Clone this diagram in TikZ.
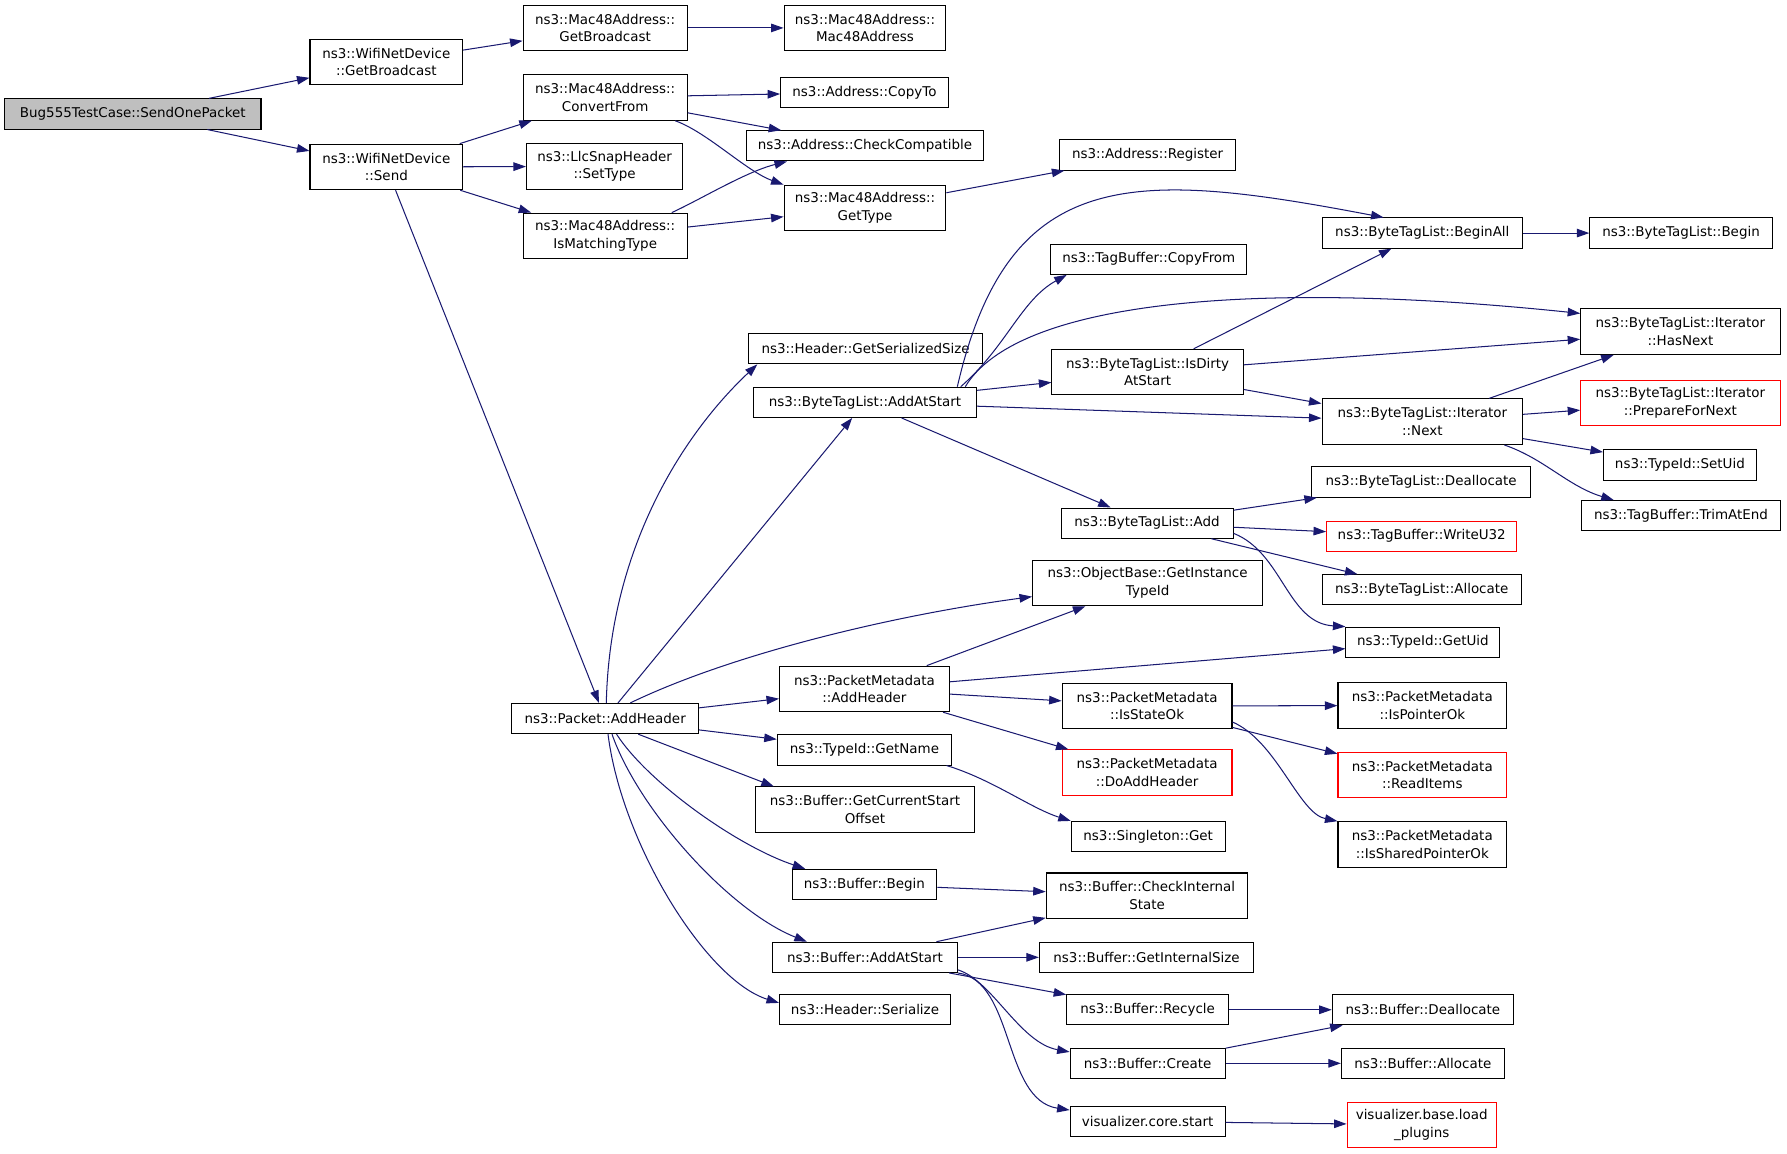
\documentclass[tikz,border=0pt]{standalone}
\usepackage{fontspec}
\setmainfont{DejaVu Sans}
\usetikzlibrary{arrows.meta}
\definecolor{edgeblue}{HTML}{191970}

\begin{document}
\begin{tikzpicture}[x=1pt,y=-1pt,
    fn/.style={draw=black, fill=white, line width=0.9pt, inner sep=0pt,
      align=center, minimum height=26.5pt, font=\fontsize{11.8}{15.5}\selectfont},
    two/.style={minimum height=40pt},
    undoc/.style={draw=red},
    root/.style={fill=black!25},
    call/.style={draw=edgeblue, line width=0.9pt, -{Triangle[length=11pt,width=7.5pt]}}]
  \useasboundingbox (0,0) rectangle (1568,1011.7);
  % first column
  \node[fn, root, minimum width=225] (snd) at (116.5,100) {Bug555TestCase::SendOnePacket};
  \node[fn, two, minimum width=134] (wgb) at (339,54.5) {ns3::WifiNetDevice\\::GetBroadcast};
  \node[fn, two, minimum width=134] (wsend) at (339,146.5) {ns3::WifiNetDevice\\::Send};
  \node[fn, two, minimum width=144] (mgb) at (531,24.5) {ns3::Mac48Address::\\GetBroadcast};
  \node[fn, two, minimum width=144] (mconv) at (531,85.5) {ns3::Mac48Address::\\ConvertFrom};
  \node[fn, two, minimum width=137] (llc) at (530.5,146) {ns3::LlcSnapHeader\\::SetType};
  \node[fn, two, minimum width=144] (ismatch) at (531,207) {ns3::Mac48Address::\\IsMatchingType};
  \node[fn, minimum width=164] (padd) at (531,630.5) {ns3::Packet::AddHeader};
  % second column
  \node[fn, two, minimum width=142] (mmac) at (759,24.5) {ns3::Mac48Address::\\Mac48Address};
  \node[fn, minimum width=147] (copyto) at (758.5,81) {ns3::Address::CopyTo};
  \node[fn, minimum width=208] (checkc) at (759,128) {ns3::Address::CheckCompatible};
  \node[fn, two, minimum width=142] (mtype) at (759,182.5) {ns3::Mac48Address::\\GetType};
  \node[fn, minimum width=205] (getser) at (759.5,306) {ns3::Header::GetSerializedSize};
  \node[fn, minimum width=196] (btlstart) at (759,353) {ns3::ByteTagList::AddAtStart};
  \node[fn, two, minimum width=149] (pmadd) at (758.5,604.5) {ns3::PacketMetadata\\::AddHeader};
  \node[fn, minimum width=153] (getname) at (758.5,658) {ns3::TypeId::GetName};
  \node[fn, two, minimum width=192] (curstart) at (759,710.5) {ns3::Buffer::GetCurrentStart\\Offset};
  \node[fn, minimum width=127] (bbegin) at (758.5,776) {ns3::Buffer::Begin};
  \node[fn, minimum width=162] (badd) at (759,840) {ns3::Buffer::AddAtStart};
  \node[fn, minimum width=150] (hser) at (759,886) {ns3::Header::Serialize};
  % third column
  \node[fn, minimum width=154] (reg) at (1007,136) {ns3::Address::Register};
  \node[fn, minimum width=172] (copyfrom) at (1008,227.5) {ns3::TagBuffer::CopyFrom};
  \node[fn, two, minimum width=168] (isdirty) at (1007,326.5) {ns3::ByteTagList::IsDirty\\AtStart};
  \node[fn, minimum width=151] (btladd) at (1006.5,459) {ns3::ByteTagList::Add};
  \node[fn, two, minimum width=202] (getinst) at (1007,511.5) {ns3::ObjectBase::GetInstance\\TypeId};
  \node[fn, two, minimum width=149] (isstate) at (1006.5,619.5) {ns3::PacketMetadata\\::IsStateOk};
  \node[fn, two, undoc, minimum width=149] (doadd) at (1006.5,678) {ns3::PacketMetadata\\::DoAddHeader};
  \node[fn, minimum width=135] (sgget) at (1007.5,734) {ns3::Singleton::Get};
  \node[fn, two, minimum width=177] (checkint) at (1006.5,786) {ns3::Buffer::CheckInternal\\State};
  \node[fn, minimum width=188] (getintsize) at (1006,840) {ns3::Buffer::GetInternalSize};
  \node[fn, minimum width=142] (recycle) at (1007,886) {ns3::Buffer::Recycle};
  \node[fn, minimum width=136] (bcreate) at (1007,933) {ns3::Buffer::Create};
  \node[fn, minimum width=136] (vstart) at (1007,984) {visualizer.core.start};
  % fourth column
  \node[fn, minimum width=176] (beginall) at (1248,204.5) {ns3::ByteTagList::BeginAll};
  \node[fn, two, minimum width=176] (inext) at (1248,370) {ns3::ByteTagList::Iterator\\::Next};
  \node[fn, minimum width=192] (btldealloc) at (1247,423) {ns3::ByteTagList::Deallocate};
  \node[fn, undoc, minimum width=167] (writeu) at (1247.5,470.5) {ns3::TagBuffer::WriteU32};
  \node[fn, minimum width=175] (btlalloc) at (1247.5,517.5) {ns3::ByteTagList::Allocate};
  \node[fn, minimum width=135] (getuid) at (1248.5,563.5) {ns3::TypeId::GetUid};
  \node[fn, two, minimum width=148] (isptr) at (1248,619) {ns3::PacketMetadata\\::IsPointerOk};
  \node[fn, two, undoc, minimum width=148] (readitems) at (1248,680) {ns3::PacketMetadata\\::ReadItems};
  \node[fn, two, minimum width=148] (isshared) at (1248,741) {ns3::PacketMetadata\\::IsSharedPointerOk};
  \node[fn, minimum width=159] (bdealloc) at (1248.5,886) {ns3::Buffer::Deallocate};
  \node[fn, minimum width=143] (balloc) at (1248.5,933) {ns3::Buffer::Allocate};
  \node[fn, two, undoc, minimum width=131] (plugins) at (1247.5,987) {visualizer.base.load\\\_plugins};
  % fifth column
  \node[fn, minimum width=160] (tbegin) at (1475,204.5) {ns3::ByteTagList::Begin};
  \node[fn, two, minimum width=175] (hasnext) at (1474.5,291) {ns3::ByteTagList::Iterator\\::HasNext};
  \node[fn, two, undoc, minimum width=175] (prepnext) at (1474.5,353.5) {ns3::ByteTagList::Iterator\\::PrepareForNext};
  \node[fn, minimum width=134] (setuid) at (1474,408) {ns3::TypeId::SetUid};
  \node[fn, minimum width=174] (trimend) at (1475,452.5) {ns3::TagBuffer::TrimAtEnd};

  % WifiNetDevice and Mac48Address
  \draw[call] (snd) -- (wgb);
  \draw[call] (snd) -- (wsend);
  \draw[call] (wgb) -- (mgb);
  \draw[call] (mgb) -- (mmac);
  \draw[call] (wsend) -- (mconv);
  \draw[call] (wsend) -- (llc);
  \draw[call] (wsend) -- (ismatch);
  \draw[call] (wsend) -- (padd);
  \draw[call] (mconv) -- (copyto);
  \draw[call] (mconv) -- (checkc);
  \draw[call] ([xshift=-11]mconv.south east) .. controls +(28,10) and +(-33,-12) .. (mtype.north west);
  \draw[call] ([xshift=-14]ismatch.north east) .. controls +(26,-12) and +(-36,9) .. ([xshift=36]checkc.south west);
  \draw[call] (ismatch) -- (mtype);
  \draw[call] (mtype) -- (reg);

  % Packet::AddHeader
  \draw[call] ([xshift=1]padd.north) .. controls +(3,-137) and +(-64,60) .. ([xshift=-95]getser.south);
  \draw[call] (padd) -- (btlstart);
  \draw[call] ([xshift=22]padd.north) .. controls +(87,-42) and +(-126,17) .. ([yshift=-12]getinst.west);
  \draw[call] (padd) -- (pmadd);
  \draw[call] (padd) -- (getname);
  \draw[call] ([xshift=29]padd.south) -- ([xshift=-80]curstart.north);
  \draw[call] ([xshift=10]padd.south) .. controls +(27,42) and +(-60,-20) .. ([xshift=-52]bbegin.north);
  \draw[call] ([xshift=6]padd.south) .. controls +(23,66) and +(-68,-27) .. ([xshift=-51]badd.north);
  \draw[call] ([xshift=2.5]padd.south) .. controls +(12,96) and +(-64,-20) .. ([yshift=6]hser.west);

  % ByteTagList
  \draw[call] ([xshift=81]btlstart.north) .. controls +(45,-195) and +(-220,-42) .. ([xshift=-34]beginall.north);
  \draw[call] ([xshift=84]btlstart.north) .. controls +(40,-35) and +(-40,22) .. ([xshift=-72]copyfrom.south);
  \draw[call] ([xshift=88]btlstart.north) .. controls +(45,-75) and +(-288,-30) .. ([yshift=16]hasnext.west);
  \draw[call] (btlstart) -- (isdirty);
  \draw[call] (btlstart) -- (inext);
  \draw[call] (btlstart) -- (btladd);
  \draw[call] (isdirty) -- (beginall);
  \draw[call] (isdirty) -- (hasnext);
  \draw[call] (isdirty) -- (inext);
  \draw[call] (beginall) -- (tbegin);
  \draw[call] (inext) -- (hasnext);
  \draw[call] (inext) -- (prepnext);
  \draw[call] (inext) -- (setuid);
  \draw[call] ([xshift=72]inext.south) .. controls +(35,12) and +(-40,-12) .. ([xshift=-59]trimend.north);
  \draw[call] (btladd) -- (btldealloc);
  \draw[call] (btladd) -- (writeu);
  \draw[call] (btladd) -- (btlalloc);
  \draw[call] ([yshift=-9]btladd.east) .. controls +(43,17) and +(-51,-3) .. (getuid.north west);

  % PacketMetadata
  \draw[call] (pmadd) -- (getinst);
  \draw[call] (pmadd) -- (getuid);
  \draw[call] (pmadd) -- (isstate);
  \draw[call] (pmadd) -- (doadd);
  \draw[call] (isstate) -- (isptr);
  \draw[call] (isstate) -- (readitems);
  \draw[call] ([yshift=-14]isstate.east) .. controls +(39,17) and +(-34,-7) .. (isshared.north west);
  \draw[call] ([xshift=-5]getname.south east) .. controls +(40,12) and +(-35,-11) .. (sgget.north west);

  % Buffer
  \draw[call] (bbegin) -- (checkint);
  \draw[call] (badd) -- (checkint);
  \draw[call] (badd) -- (getintsize);
  \draw[call] (badd) -- (recycle);
  \draw[call] ([yshift=-11]badd.east) .. controls +(30,9) and +(-44,-8) .. ([yshift=10]bcreate.west);
  \draw[call] (badd.south east) .. controls +(50,7) and +(-59,-9) .. ([yshift=10]vstart.west);
  \draw[call] (recycle) -- (bdealloc);
  \draw[call] (bcreate) -- (bdealloc);
  \draw[call] (bcreate) -- (balloc);
  \draw[call] (vstart) -- (plugins);
\end{tikzpicture}
\end{document}
